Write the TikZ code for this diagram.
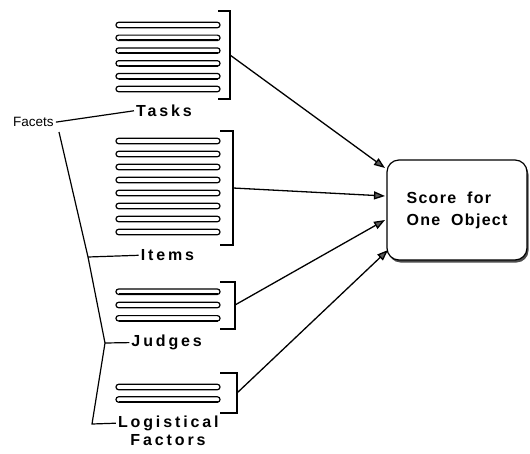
\documentclass[tikz,border=0pt]{standalone}
\usepackage{fontspec}
\setmainfont{Liberation Sans}
\newfontfamily\lblfont{Liberation Sans}[LetterSpace=18]
\newfontfamily\boxfont{Liberation Sans}[LetterSpace=8]
\usetikzlibrary{arrows.meta,shadows}

\begin{document}
\begin{tikzpicture}[x=1pt,y=-1pt,
  bar/.style={line width=1.2pt, rounded corners=2.6pt, fill=white},
  barbase/.style={line width=1.7pt},
  bracket/.style={line width=1.3pt},
  tree/.style={line width=1.2pt},
  feed/.style={line width=1.3pt,
    -{Triangle[length=11pt,width=8pt,fill=black!65]}},
  facetlabel/.style={font={\lblfont\bfseries\fontsize{16}{18}\selectfont},
    inner sep=2pt, anchor=base},
  smalllabel/.style={font={\fontsize{13.5}{16}\selectfont},
    inner sep=2pt, anchor=base west},
  scorebox/.style={draw, line width=1.2pt, rounded corners=12pt, fill=white,
    minimum width=140pt, minimum height=100pt, align=left,
    font={\boxfont\bfseries\fontsize{16}{22}\selectfont},
    drop shadow={shadow xshift=1.5pt, shadow yshift=-2.5pt,
      fill=black!70, opacity=1}}
]
\useasboundingbox (0,0) rectangle (530,453);

% stacks of bars, one stack per facet
\foreach \y in {25,37.8,50.6,63.4,76.2,89}{
  \draw[bar] (116,\y-2.7) rectangle (220,\y+2.7);
  \draw[barbase] (118.5,\y+2.5) -- (217.5,\y+2.5);
}
\foreach \y in {141,154,167,180,193,206,219,232}{
  \draw[bar] (116,\y-2.7) rectangle (220,\y+2.7);
  \draw[barbase] (118.5,\y+2.5) -- (217.5,\y+2.5);
}
\foreach \y in {291.7,305,318.3}{
  \draw[bar] (116,\y-2.7) rectangle (220,\y+2.7);
  \draw[barbase] (118.5,\y+2.5) -- (217.5,\y+2.5);
}
\foreach \y in {387,399.5}{
  \draw[bar] (116,\y-2.7) rectangle (220,\y+2.7);
  \draw[barbase] (118.5,\y+2.5) -- (217.5,\y+2.5);
}

% brackets grouping each stack
\draw[bracket] (218,11) -- (230,11) -- (230,99) -- (218,99);
\draw[bracket] (220,131) -- (233,131) -- (233,245) -- (220,245);
\draw[bracket] (220,282) -- (235,282) -- (235,329) -- (220,329);
\draw[bracket] (220,373) -- (237,373) -- (237,413) -- (220,413);
\coordinate (tb) at (230,55);
\coordinate (ib) at (233,188);
\coordinate (jb) at (235,305);
\coordinate (lb) at (237,393);

% facet names
\node[facetlabel] (tasks) at (164,116.5) {Tasks};
\node[facetlabel] (items) at (167.5,260.7) {Items};
\node[facetlabel] (judges) at (166.7,346.7) {Judges};
\node[facetlabel] (logistical) at (168.3,427.3) {Logistical};
\node[facetlabel] (factors) at (168,445) {Factors};
\node[smalllabel] (facets) at (11,126.7) {Facets};

% tree joining the facet names
\coordinate (j0) at (59,132);
\coordinate (j1) at (88,257);
\coordinate (j2) at (105,343);
\coordinate (j3) at (92,424);
\draw[tree] (facets.east) -- (tasks.west);
\draw[tree] (j0) -- (j1) -- (j2) -- (j3) -- (logistical.west);
\draw[tree] (j1) -- (items.west);
\draw[tree] (j2) -- (judges.west);

% the score box
\node[scorebox] (score) at (457,210) {Score\hspace{11pt}for\\One\hspace{11pt}Object};
\coordinate (s1) at (385,168);
\coordinate (s2) at (385,196);
\coordinate (s3) at (385,220);
\coordinate (s4) at (388,250);

\draw[feed] (tb) -- (s1);
\draw[feed] (ib) -- (s2);
\draw[feed] (jb) -- (s3);
\draw[feed] (lb) -- (s4);
\end{tikzpicture}
\end{document}
